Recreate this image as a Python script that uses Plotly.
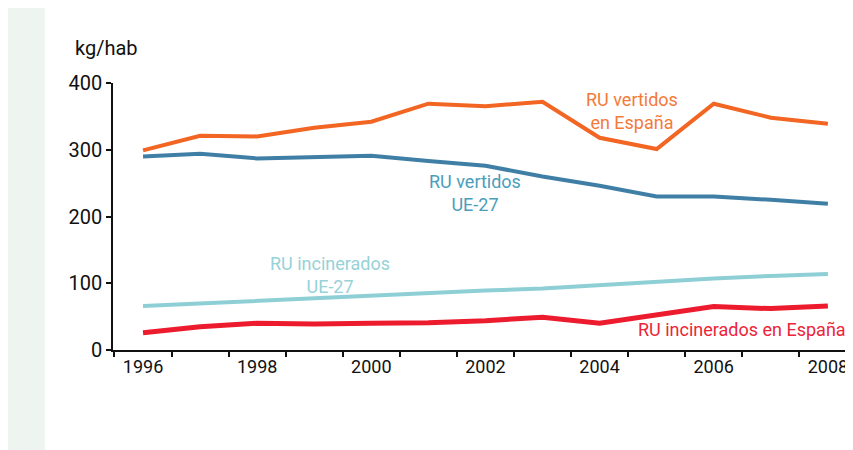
import plotly.graph_objects as go

years = list(range(1996, 2009))
vertidos_espana = [299, 321, 320, 333, 342, 369, 365, 372, 318, 301, 369, 348, 339]
vertidos_ue27 = [290, 294, 287, 289, 291, 283, 276, 260, 246, 230, 230, 225, 219]
incinerados_ue27 = [66, 70, 73, 77, 81, 86, 89, 92, 97, 103, 107, 111, 114]
incinerados_espana = [26, 35, 40, 39, 40, 41, 44, 49, 40, 53, 65, 62, 66]

tick_years = [1996, 1998, 2000, 2002, 2004, 2006, 2008]
y_ticks = [0, 100, 200, 300, 400]
boundaries = [y + 0.5 for y in range(1995, 2009)]

FONT = "Roboto, sans-serif"

fig = go.Figure()
series = [
    (vertidos_espana, "#F26522", 4),
    (vertidos_ue27, "#3F7FA5", 4),
    (incinerados_ue27, "#8ECFD6", 4),
    (incinerados_espana, "#EC1C2E", 5),
]
for vals, col, w in series:
    fig.add_trace(go.Scatter(x=years, y=vals, mode="lines",
                             line=dict(color=col, width=w), showlegend=False))

ann = [
    (2004.57, 358, "RU vertidos<br>en España", "#F47A3A", 18),
    (2001.82, 235, "RU vertidos<br>UE-27", "#4A9DBB", 18),
    (1999.28, 113, "RU incinerados<br>UE-27", "#96D2D8", 18),
    (2006.49, 30, "RU incinerados en España", "#EC2438", 18),
]
for x, y, t, c, s in ann:
    fig.add_annotation(x=x, y=y, text=t, showarrow=False,
                       font=dict(family=FONT, size=s, color=c),
                       align="center")

fig.add_annotation(xref="paper", yref="paper", x=-0.054, y=1.13, text="kg/hab",
                   showarrow=False, xanchor="left", yanchor="middle",
                   font=dict(family=FONT, size=20, color="#111111"))

fig.add_shape(type="rect", xref="paper", yref="paper",
              x0=-0.1419, x1=-0.0919, y0=-0.3745, y1=1.281,
              fillcolor="#EEF4F0", line=dict(width=0), layer="below")

fig.update_layout(
    width=845, height=442,
    margin=dict(l=105, r=0, t=75, b=100),
    paper_bgcolor="white", plot_bgcolor="white",
    xaxis=dict(range=[1995.474, 2008.44], tickvals=tick_years,
               ticktext=[str(y) for y in tick_years], ticks="",
               showgrid=False, zeroline=False, showline=True, automargin=False,
               linecolor="#111111", linewidth=1.5,
               tickfont=dict(family=FONT, size=18, color="#111111"),
               minor=dict(tickvals=boundaries, ticks="outside", ticklen=5,
                          tickcolor="#111111", tickwidth=1.5, showgrid=False)),
    yaxis=dict(range=[0, 400], tickvals=y_ticks, ticks="outside", ticklen=5,
               tickcolor="#111111", tickwidth=1.5, automargin=False,
               showgrid=False, zeroline=False, showline=True,
               linecolor="#111111", linewidth=1.5,
               tickfont=dict(family=FONT, size=20, color="#111111")),
)

fig.write_html("out.html")
